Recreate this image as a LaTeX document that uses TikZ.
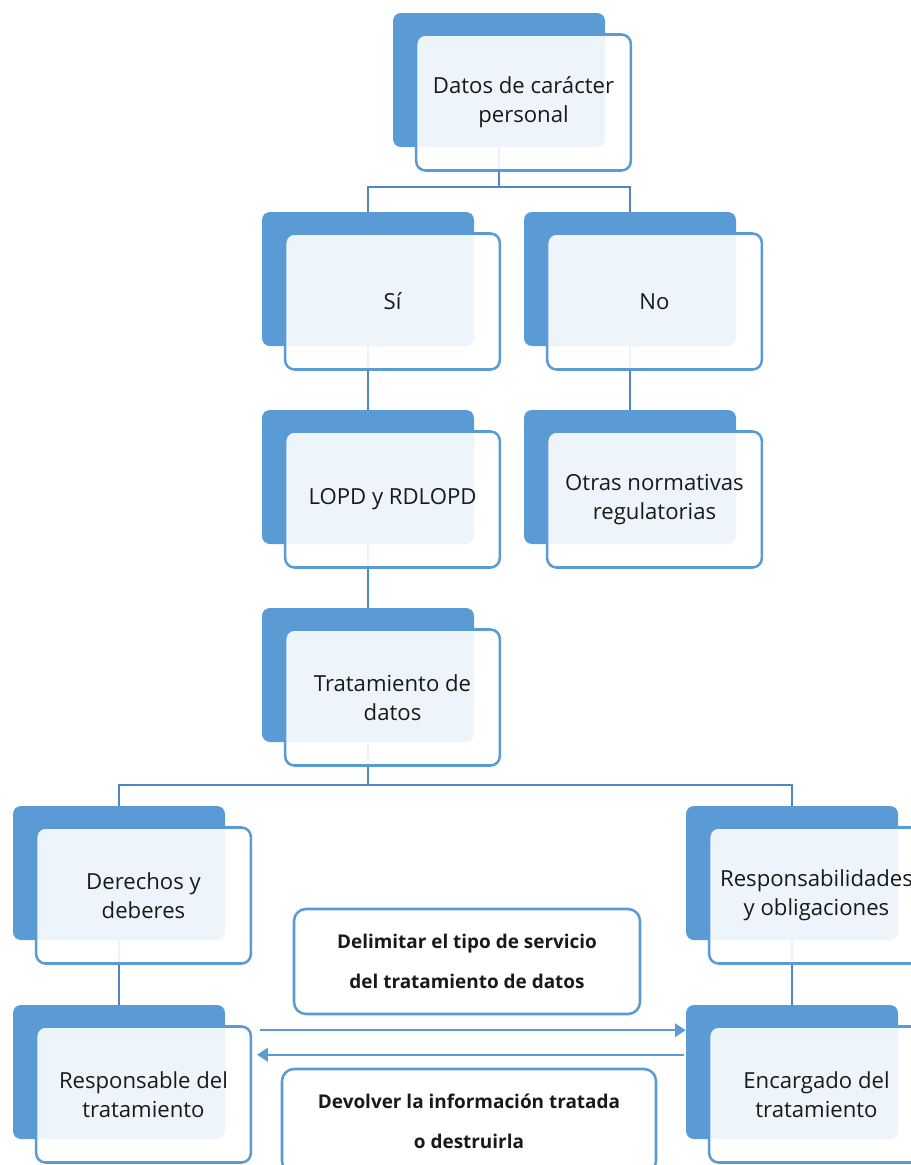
\documentclass[tikz,border=0pt]{standalone}
\usepackage{fontspec}
\setmainfont{Open Sans}
\usetikzlibrary{arrows.meta,calc,positioning}
\definecolor{boxblue}{HTML}{5B9BD5}
\definecolor{linkblue}{HTML}{4F86C6}

\tikzset{
  backbox/.style={fill=boxblue, rounded corners=6pt, minimum width=159pt, minimum height=100.5pt, inner sep=0pt},
  frontbox/.style={draw=boxblue, line width=1.9pt, fill=white, fill opacity=0.9, text opacity=1,
    rounded corners=7pt, minimum width=161pt, minimum height=102pt, align=center,
    font=\fontsize{16.6}{22}\selectfont, text=black!90},
  link/.style={draw=linkblue, line width=1.8pt},
  notebox/.style={draw=boxblue, line width=1.9pt, rounded corners=9pt, align=center,
    font=\bfseries\fontsize{14.2}{30}\selectfont, text=black!90},
  flow/.style={draw=boxblue, line width=1.8pt, -{Triangle[length=8pt,width=10pt]}}
}

\begin{document}
\begin{tikzpicture}[x=0.75pt,y=-0.75pt]
    \useasboundingbox (0,0) rectangle (911,1165);
    \clip (0,0) rectangle (911,1165);
    % back boxes
    \node[backbox] (bdatos) at (499,80) {};
    \node[backbox] (bsi) at (368,279) {};
    \node[backbox] (bno) at (630,279) {};
    \node[backbox] (blopd) at (368,477) {};
    \node[backbox] (botras) at (630,477) {};
    \node[backbox] (btrat) at (368,675) {};
    \node[backbox] (bder) at (119,873) {};
    \node[backbox] (bobl) at (792,873) {};
    \node[backbox] (bresp) at (119,1072) {};
    \node[backbox] (benc) at (792,1072) {};
    % links between the units
    \draw[link] (bdatos.south) -- ++(0,40) -| (bsi.north);
    \draw[link] (bdatos.south) -- ++(0,40) -| (bno.north);
    \draw[link] (bsi.south) -- (blopd.north);
    \draw[link] (bno.south) -- (botras.north);
    \draw[link] (blopd.south) -- (btrat.north);
    \draw[link] (btrat.south) -- ++(0,43) -| (bder.north);
    \draw[link] (btrat.south) -- ++(0,43) -| (bobl.north);
    \draw[link] (bder.south) -- (bresp.north);
    \draw[link] (bobl.south) -- (benc.north);
    % front boxes with the texts
    \node[frontbox] (datos) at ($(bdatos)+(24.5,22.5)$) {Datos de carácter\\personal};
    \node[frontbox] (si) at ($(bsi)+(24.5,22.5)$) {Sí};
    \node[frontbox] (no) at ($(bno)+(24.5,22.5)$) {No};
    \node[frontbox] (lopd) at ($(blopd)+(24.5,22.5)$) {LOPD y RDLOPD};
    \node[frontbox] (otras) at ($(botras)+(24.5,22.5)$) {Otras normativas\\regulatorias};
    \node[frontbox] (trat) at ($(btrat)+(24.5,22.5)$) {Tratamiento de\\datos};
    \node[frontbox] (der) at ($(bder)+(24.5,22.5)$) {Derechos y\\deberes};
    \node[frontbox] (obl) at ($(bobl)+(24.5,22.5)$) {Responsabilidades\\y obligaciones};
    \node[frontbox] (resp) at ($(bresp)+(24.5,22.5)$) {Responsable del\\tratamiento};
    \node[frontbox] (enc) at ($(benc)+(24.5,22.5)$) {Encargado del\\tratamiento};
    % messages between responsable and encargado
    \node[notebox, minimum width=259.5pt, minimum height=78.75pt] (delimitar) at (467,961.5)
        {Delimitar el tipo de servicio\\del tratamiento de datos};
    \node[notebox, minimum width=280.5pt, minimum height=78pt] (devolver) at (469,1121)
        {Devolver la información tratada\\o destruirla};
    \coordinate (ida) at ($(resp.north east)+(8,5)$);
    \coordinate (vuelta) at ($(benc.north west)+(-2,50)$);
    \draw[flow] (ida) -- (ida -| benc.west);
    \draw[flow] (vuelta) -- ($(vuelta -| resp.east)+(5,0)$);
\end{tikzpicture}
\end{document}
